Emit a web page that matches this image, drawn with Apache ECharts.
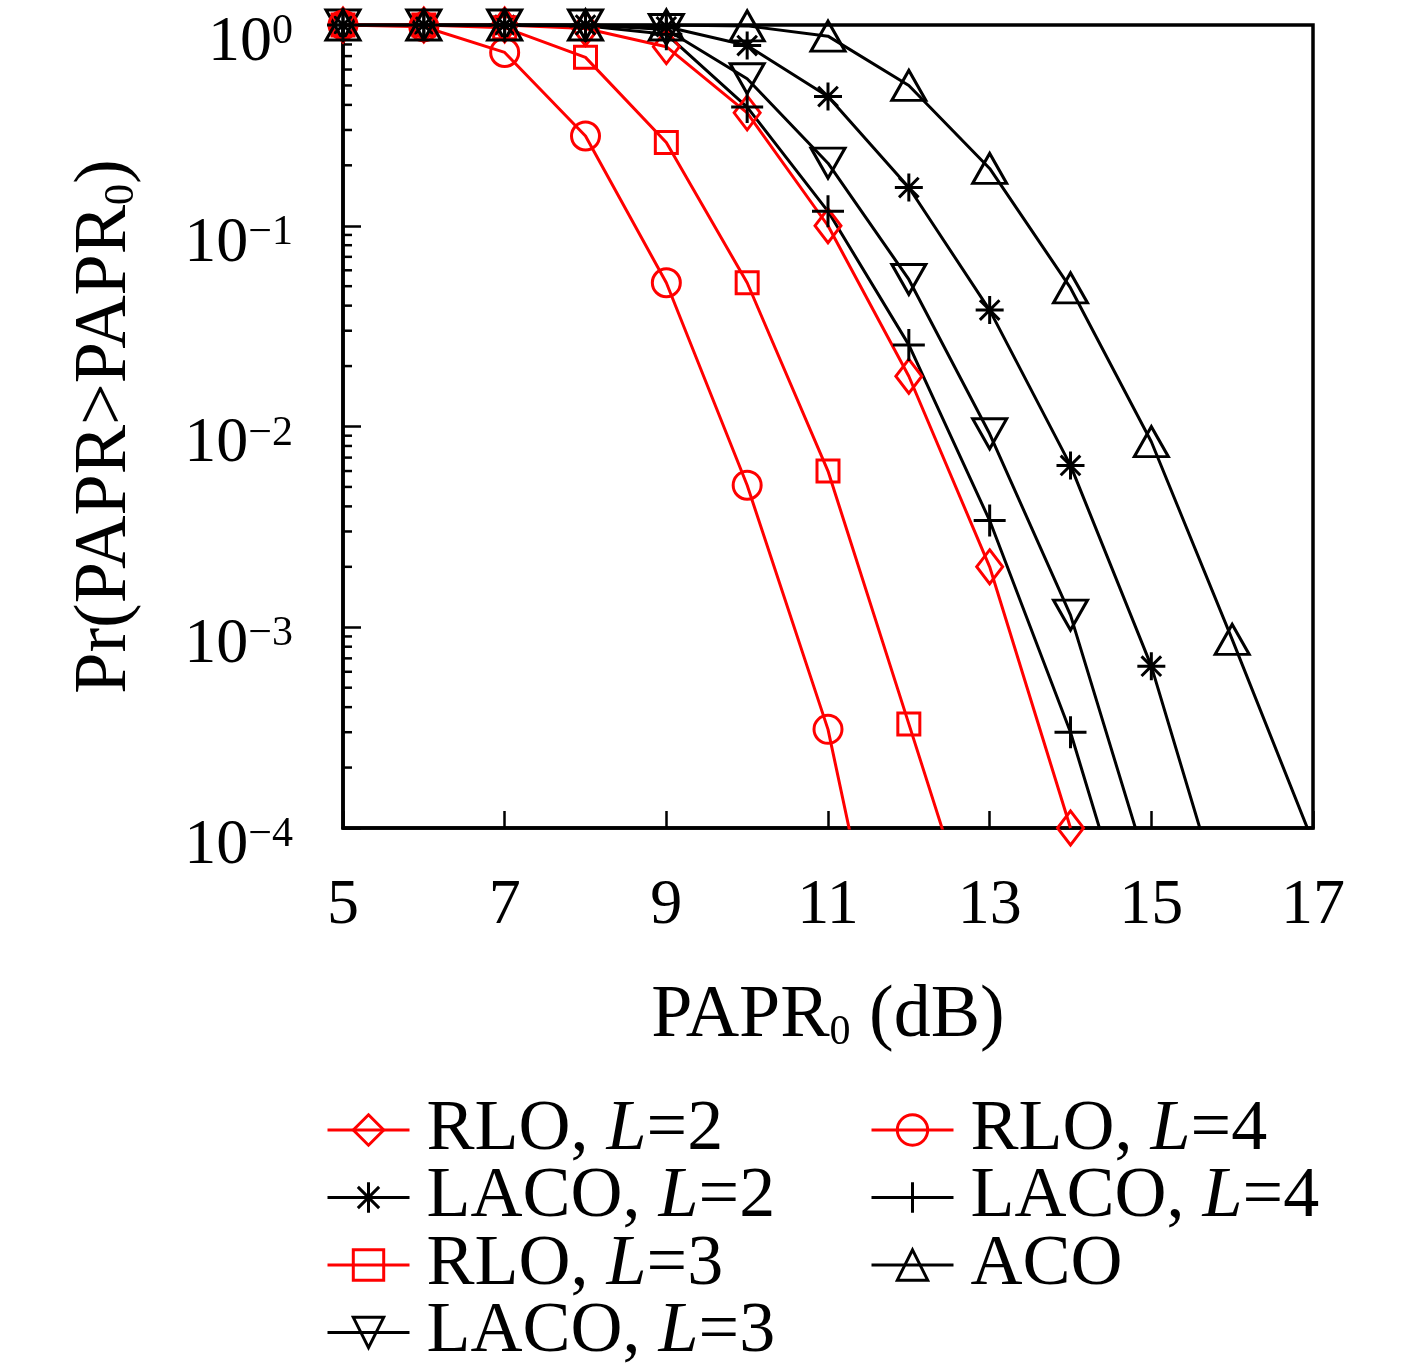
<!DOCTYPE html>
<html>
<head>
<meta charset="utf-8">
<script src="https://cdn.jsdelivr.net/npm/echarts@6/dist/echarts.min.js"></script>
<style>
html, body { margin: 0; padding: 0; background: #fff; }
#chart { width: 1417px; height: 1367px; }
</style>
</head>
<body>
<div id="chart"></div>
<script>
// values (Pr > PAPR0), x = PAPR0 in dB
var xRloL2 = [5, 6, 7, 8, 9, 10, 11, 12, 13, 14];
var yRloL2 = [1, 1, 1, 0.96, 0.78, 0.365, 0.1, 0.0178, 0.002, 1.0e-4];

var xLacoL2 = [5, 6, 7, 8, 9, 10, 11, 12, 13, 14, 15, 16];
var yLacoL2 = [1, 1, 1, 1, 0.98, 0.79, 0.44, 0.155, 0.038, 6.4e-3, 6.4e-4, 2.9e-5];

var xRloL3 = [5, 6, 7, 8, 9, 10, 11, 12, 13];
var yRloL3 = [1, 1, 0.97, 0.69, 0.26, 0.052, 6.0e-3, 3.3e-4, 1.8e-5];

var xLacoL3 = [5, 6, 7, 8, 9, 10, 11, 12, 13, 14, 15];
var yLacoL3 = [1, 1, 1, 1, 0.95, 0.54, 0.205, 0.054, 9.2e-3, 1.15e-3, 5.5e-5];

var xRloL4 = [5, 6, 7, 8, 9, 10, 11, 12];
var yRloL4 = [1, 0.98, 0.73, 0.28, 0.052, 5.1e-3, 3.1e-4, 4e-6];

var xLacoL4 = [5, 6, 7, 8, 9, 10, 11, 12, 13, 14, 15];
var yLacoL4 = [1, 1, 1, 0.99, 0.9, 0.39, 0.118, 0.0255, 3.4e-3, 3.0e-4, 1.4e-5];

var xAco = [5, 6, 7, 8, 9, 10, 11, 12, 13, 14, 15, 16, 17];
var yAco = [1, 1, 1, 1, 1, 0.99, 0.88, 0.5, 0.193, 0.049, 8.4e-3, 8.7e-4, 8.5e-5];

var legendLeft = ['RLO, L=2', 'LACO, L=2', 'RLO, L=3', 'LACO, L=3'];
var legendRight = ['RLO, L=4', 'LACO, L=4', 'ACO'];

var xTicks = [5, 7, 9, 11, 13, 15, 17];

var FONT = '"Liberation Serif", "DejaVu Serif", serif';
var RED = '#f00';
var BLACK = '#000';

var asterisk = 'path://M10,0 L10,20 M0,10 L20,10 M3,3 L17,17 M3,17 L17,3';
var plus = 'path://M10,0 L10,20 M0,10 L20,10';

var myChart = echarts.init(document.getElementById('chart'), null, {renderer: 'canvas'});

function mk(name, xs, ys, color, symbol, size, rotate) {
    return {
        name: name,
        type: 'line',
        data: xs.map(function (x, i) { return [x, ys[i]]; }),
        symbol: symbol,
        symbolSize: size,
        symbolRotate: rotate || 0,
        showAllSymbol: true,
        clip: true,
        lineStyle: {color: color, width: 3},
        itemStyle: {color: 'transparent', borderColor: color, borderWidth: 3},
        emphasis: {disabled: true}
    };
}

function legendText(name) {
    // "RLO, L=2" -> italic L
    var m = name.match(/^(.*, )L(=.*)$/);
    if (!m) return '{n|' + name + '}';
    return '{n|' + m[1] + '}{i|L}{n|' + m[2] + '}';
}

var legendStyle = {
    color: BLACK,
    fontFamily: FONT,
    fontSize: 72,
    rich: {
        n: {fontFamily: FONT, fontSize: 72, color: BLACK},
        i: {fontFamily: FONT, fontSize: 72, fontStyle: 'italic', color: BLACK}
    },
    padding: [0, 0, 0, 12]
};

// one legend box per entry, two columns, rows 67px apart
var rowTop = 1094, rowStep = 67.5;
function legendItem(name, col, row) {
    return {
        orient: 'vertical', left: col === 0 ? 326 : 870, top: rowTop + row * rowStep,
        padding: 0, itemWidth: 82, itemHeight: 38,
        lineStyle: {width: 3},
        itemStyle: {borderWidth: 3},
        data: [name], formatter: legendText, textStyle: legendStyle
    };
}
var legends = legendLeft.map(function (n, i) { return legendItem(n, 0, i); })
    .concat(legendRight.map(function (n, i) { return legendItem(n, 1, i); }));

var nameRich = {
    n: {fontFamily: FONT, fontSize: 74, color: BLACK, lineHeight: 74},
    s: {fontFamily: FONT, fontSize: 42, color: BLACK, verticalAlign: 'bottom', lineHeight: 44}
};

option = {
    backgroundColor: '#fff',
    animation: false,
    grid: {
        left: 343, right: 104, top: 25, bottom: 539,
        show: true, borderColor: BLACK, borderWidth: 3.5,
        containLabel: false
    },
    legend: legends,
    xAxis: {
        type: 'value', min: 5, max: 17, interval: 2,
        axisLine: {show: true, lineStyle: {color: BLACK, width: 3.5}},
        axisTick: {show: true, inside: true, length: 17, lineStyle: {color: BLACK, width: 2.5}},
        splitLine: {show: false},
        axisLabel: {
            margin: 46, color: BLACK, fontFamily: FONT, fontSize: 64,
            formatter: function (v) { return xTicks.indexOf(v) >= 0 ? String(v) : ''; }
        },
        name: '{n|PAPR}{s|0}{n| (dB)}',
        nameLocation: 'middle',
        nameGap: 152,
        nameTextStyle: {rich: nameRich}
    },
    yAxis: {
        type: 'log', logBase: 10, min: 1e-4, max: 1,
        axisLine: {show: true, lineStyle: {color: BLACK, width: 3.5}},
        axisTick: {show: true, inside: true, length: 18, lineStyle: {color: BLACK, width: 2.5}},
        splitLine: {show: false},
        axisLabel: {
            margin: 50,
            padding: [36, 0, 0, 0],
            formatter: function (v) {
                var e = Math.round(Math.log(v) / Math.LN10);
                return '{b|10}{s|' + (e < 0 ? '\u2212' + (-e) : e) + '}';
            },
            rich: {
                b: {fontFamily: FONT, fontSize: 64, color: BLACK, lineHeight: 64},
                s: {fontFamily: FONT, fontSize: 42, color: BLACK, verticalAlign: 'top', lineHeight: 42}
            }
        },
        name: '{n|Pr(PAPR>PAPR}{s|0}{n|)}',
        nameLocation: 'middle',
        nameRotate: 90,
        nameGap: 200,
        nameTextStyle: {rich: nameRich}
    },
    series: [
        mk('RLO, L=2', xRloL2, yRloL2, RED, 'diamond', [26, 34]),
        mk('LACO, L=2', xLacoL2, yLacoL2, BLACK, asterisk, 28),
        mk('RLO, L=3', xRloL3, yRloL3, RED, 'rect', 22),
        mk('LACO, L=3', xLacoL3, yLacoL3, BLACK, 'triangle', [34, 30], 180),
        mk('RLO, L=4', xRloL4, yRloL4, RED, 'circle', 28),
        mk('LACO, L=4', xLacoL4, yLacoL4, BLACK, plus, 32),
        mk('ACO', xAco, yAco, BLACK, 'triangle', [34, 30])
    ]
};

myChart.setOption(option);

// minor log ticks on the left axis, placed through the axis scale
var minor = [];
for (var e = -4; e < 0; e++) {
    for (var m = 2; m <= 9; m++) {
        var p = myChart.convertToPixel({gridIndex: 0}, [5, m * Math.pow(10, e)]);
        minor.push({
            type: 'line', silent: true,
            shape: {x1: p[0], y1: p[1], x2: p[0] + 9, y2: p[1]},
            style: {stroke: BLACK, lineWidth: 2.5}
        });
    }
}
myChart.setOption({graphic: minor});
</script>
</body>
</html>
